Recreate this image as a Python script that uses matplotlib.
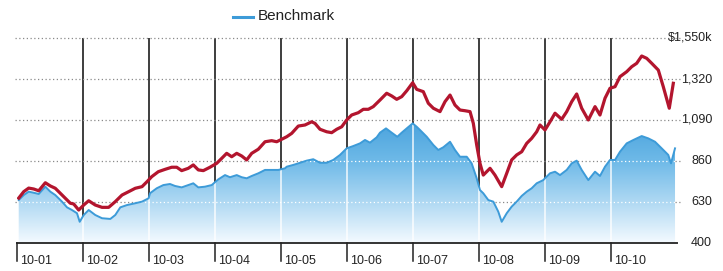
import matplotlib
matplotlib.use("Agg")
import matplotlib.pyplot as plt
import numpy as np
from matplotlib.patches import PathPatch
from matplotlib.lines import Line2D
from matplotlib.colors import LinearSegmentedColormap

plt.rcParams['font.family'] = ['Liberation Sans Narrow', 'Liberation Sans', 'DejaVu Sans']

# ---- data (years since start, values in $k) ----
portfolio_t = [0.026, 0.102, 0.177, 0.253, 0.329, 0.429, 0.505, 0.580, 0.656, 0.732, 0.808, 0.859, 0.935,
               1.011, 1.086, 1.186, 1.288, 1.389, 1.489, 1.591, 1.692, 1.792, 1.894, 1.970, 2.041,
               2.141, 2.242, 2.344, 2.420, 2.495, 2.595, 2.671, 2.747, 2.823, 2.924,
               3.026, 3.102, 3.177, 3.253, 3.329, 3.405, 3.480, 3.556, 3.656, 3.758, 3.859, 3.935,
               4.011, 4.086, 4.162, 4.262, 4.364, 4.465, 4.515, 4.591, 4.692, 4.768, 4.844, 4.920, 4.995,
               5.071, 5.171, 5.247, 5.323, 5.398, 5.500, 5.601, 5.677, 5.753, 5.829, 5.905, 5.995,
               6.056, 6.156, 6.232, 6.308, 6.409, 6.485, 6.561, 6.636, 6.712, 6.788, 6.864, 6.914, 6.965,
               7.015, 7.065, 7.167, 7.242, 7.344, 7.420, 7.495, 7.571, 7.647, 7.723, 7.798, 7.874, 7.924,
               8.000, 8.076, 8.152, 8.253, 8.329, 8.405, 8.480, 8.556, 8.656, 8.758, 8.833, 8.909, 8.985,
               9.061, 9.136, 9.238, 9.314, 9.389, 9.465, 9.541, 9.617, 9.717, 9.792, 9.883, 9.944]
portfolio_v = [652, 688, 708, 703, 693, 738, 720, 707, 679, 651, 623, 619, 585,
               613, 637, 613, 600, 600, 632, 669, 688, 707, 716, 744, 772,
               800, 813, 825, 825, 806, 819, 838, 810, 806, 825,
               847, 875, 903, 884, 903, 888, 866, 903, 926, 968, 974, 968,
               982, 996, 1015, 1056, 1062, 1080, 1071, 1038, 1024, 1019, 1038, 1052, 1090,
               1118, 1131, 1150, 1150, 1165, 1202, 1240, 1225, 1206, 1221, 1254, 1299,
               1262, 1249, 1184, 1156, 1137, 1193, 1230, 1174, 1146, 1142, 1137, 1071, 950,
               847, 781, 819, 781, 716, 791, 866, 894, 912, 959, 987, 1024, 1062,
               1034, 1080, 1128, 1094, 1137, 1193, 1236, 1156, 1090, 1165, 1118, 1212, 1268,
               1277, 1333, 1361, 1389, 1408, 1449, 1436, 1408, 1370, 1277, 1156, 1296]

benchmark_t = [0.026, 0.102, 0.177, 0.253, 0.329, 0.429, 0.505, 0.580, 0.682, 0.758, 0.833, 0.909, 0.950,
               1.011, 1.086, 1.186, 1.288, 1.414, 1.489, 1.565, 1.667, 1.792, 1.894, 1.995,
               2.015, 2.117, 2.217, 2.318, 2.394, 2.495, 2.595, 2.671, 2.747, 2.848, 2.950,
               3.050, 3.152, 3.227, 3.329, 3.405, 3.480, 3.556, 3.656, 3.758, 3.859, 3.959,
               4.061, 4.086, 4.186, 4.288, 4.389, 4.489, 4.591, 4.692, 4.792, 4.894, 4.995,
               5.095, 5.197, 5.273, 5.348, 5.450, 5.500, 5.591, 5.677, 5.762, 5.829, 5.905, 5.995,
               6.056, 6.106, 6.208, 6.308, 6.383, 6.459, 6.561, 6.636, 6.712, 6.814, 6.889, 6.965,
               7.015, 7.065, 7.141, 7.217, 7.292, 7.344, 7.420, 7.495, 7.571, 7.647, 7.723, 7.798, 7.874, 7.974,
               8.000, 8.076, 8.152, 8.227, 8.329, 8.405, 8.480, 8.556, 8.656, 8.758, 8.833, 8.909, 8.985,
               9.061, 9.136, 9.238, 9.339, 9.465, 9.565, 9.667, 9.768, 9.868, 9.909, 9.970]
benchmark_v = [641, 669, 688, 682, 675, 716, 688, 669, 632, 600, 585, 567, 519,
               557, 585, 557, 539, 535, 557, 600, 613, 623, 632, 651,
               679, 707, 725, 731, 720, 712, 725, 735, 712, 716, 725,
               757, 781, 769, 781, 769, 763, 776, 791, 810, 810, 810,
               819, 828, 838, 850, 862, 870, 850, 850, 866, 894, 931,
               944, 959, 978, 963, 993, 1019, 1043, 1019, 996, 1019, 1043, 1071,
               1052, 1034, 996, 950, 922, 937, 968, 922, 884, 884, 847, 763,
               697, 679, 641, 632, 576, 519, 567, 604, 632, 664, 688, 707, 735, 753,
               763, 791, 800, 781, 810, 847, 862, 810, 753, 800, 776, 828, 866,
               866, 912, 959, 978, 1000, 987, 968, 931, 894, 847, 931]

tick_labels = ["10-01", "10-02", "10-03", "10-04", "10-05", "10-06", "10-07", "10-08", "10-09", "10-10"]
y_ticks = [400, 630, 860, 1090, 1320, 1550]
y_labels = ["400", "630", "860", "1,090", "1,320", "$1,550k"]

W, H = 723, 271
fig = plt.figure(figsize=(W / 100, H / 100), dpi=100)
x0, x1, yb, yt = 17, 677, 243, 38
ax = fig.add_axes([x0 / W, 1 - yb / H, (x1 - x0) / W, (yb - yt) / H])
ax.set_xlim(0, 10)
ax.set_ylim(400, 1550)
for s in ax.spines.values():
    s.set_visible(False)
ax.set_xticks([])
ax.set_yticks([])

grid_kw = dict(linestyle=(0, (1, 2)), linewidth=0.9)
# dark verticals and gray dotted gridlines
ax.vlines(np.arange(1, 10), 400, 1550, colors='#1e1e1e', linewidth=1.2, zorder=1)
for v in y_ticks[1:]:
    ax.plot([-0.03, 10.05], [v, v], color='#8a8a8a', clip_on=False, zorder=1, **grid_kw)

# gradient fill under benchmark
bt = np.array(benchmark_t)
bv = np.array(benchmark_v)
fill = ax.fill_between(bt, 400, bv, color='none', linewidth=0)
path = fill.get_paths()[0]
patch = PathPatch(path, transform=ax.transData, facecolor='none', edgecolor='none')
ax.add_patch(patch)
cmap = LinearSegmentedColormap.from_list('g', ['#f4faff', '#b0d9f3', '#6fbae8', '#4aa3dd'])
grad = np.linspace(0, 1, 256).reshape(-1, 1)
im = ax.imshow(grad, extent=[0, 10, 400, 1080], origin='lower', aspect='auto', cmap=cmap,
               zorder=2, interpolation='bilinear')
im.set_clip_path(patch)
ax.set_ylim(400, 1550)
ax.set_xlim(0, 10)

# white lines inside fill
wl = ax.vlines(np.arange(1, 10), 400, 1550, colors='white', linewidth=1.1, zorder=3, alpha=0.9)
wl.set_clip_path(patch)
for v in y_ticks[1:]:
    l, = ax.plot([0, 10], [v, v], color='white', zorder=3, **grid_kw)
    l.set_clip_path(patch)

ax.plot(bt, bv, color='#3d9bd8', linewidth=1.4, zorder=4)
ax.plot(portfolio_t, portfolio_v, color='#b3152e', linewidth=2.3, zorder=5, solid_joinstyle='round')

# baseline axis
ax.plot([0, 10], [400, 400], color='#333333', linewidth=1.4, clip_on=False, zorder=6)

# bottom ticks and labels
for i, lab in enumerate(tick_labels):
    ax.add_line(Line2D([i, i], [400, 400 - 18 * 1150 / 205], color='#222222', linewidth=1.1,
                       clip_on=False, zorder=6))
    ax.annotate(lab, xy=(i, 400), xytext=(2.5, -13), textcoords='offset points',
                ha='left', va='center', fontsize=9, color='#222222', annotation_clip=False)

# right labels
for v, lab in zip(y_ticks, y_labels):
    fig.text(712 / W, 1 - (yb - (v - 400) * (yb - yt) / 1150) / H, lab, ha='right', va='center',
             fontsize=9, color='#222222')

# legend
fig.add_artist(Line2D([233 / W, 253 / W], [1 - 17 / H, 1 - 17 / H], color='#3d9bd8', linewidth=2.2))
fig.text(258 / W, 1 - 15.5 / H, 'Benchmark', ha='left', va='center', fontsize=11, color='#222222')

fig.savefig('out.png', dpi=100)
